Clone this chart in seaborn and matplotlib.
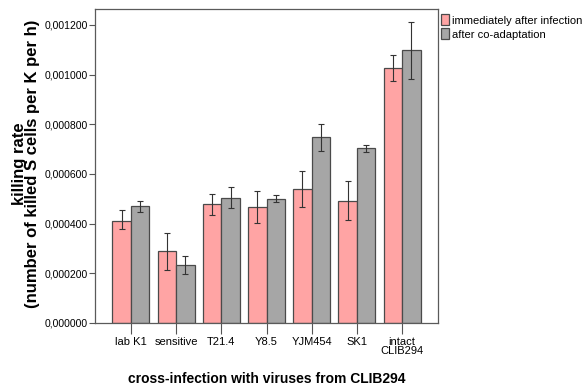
import matplotlib
matplotlib.use("Agg")
import matplotlib.pyplot as plt
import matplotlib.ticker as mticker
import numpy as np
import pandas as pd
import seaborn as sns

# Virus source strains (x categories)
strains = ["lab K1", "sensitive", "T21.4", "Y8.5", "YJM454", "SK1", "intact\nCLIB294"]
conditions = ["immediately after infection", "after co-adaptation"]

# Mean killing rates
rate_immediate = [0.000411, 0.000289, 0.000478, 0.000468, 0.000538, 0.000493, 0.001025]
rate_coadapted = [0.000471, 0.000235, 0.000505, 0.000500, 0.000750, 0.000706, 0.001098]

# Error bar bounds (lower, upper)
low_immediate = [0.000378, 0.000213, 0.000436, 0.000404, 0.000466, 0.000415, 0.000973]
high_immediate = [0.000455, 0.000361, 0.000521, 0.000530, 0.000613, 0.000573, 0.001078]
low_coadapted = [0.000448, 0.000197, 0.000463, 0.000488, 0.000694, 0.000690, 0.000981]
high_coadapted = [0.000492, 0.000271, 0.000546, 0.000514, 0.000803, 0.000718, 0.001213]

yticks = [0.0, 0.0002, 0.0004, 0.0006, 0.0008, 0.0010, 0.0012]

df = pd.DataFrame({
    "strain": strains * 2,
    "condition": [conditions[0]] * len(strains) + [conditions[1]] * len(strains),
    "rate": rate_immediate + rate_coadapted,
    "low": low_immediate + low_coadapted,
    "high": high_immediate + high_coadapted,
})

sns.set_theme(style="white")
plt.rcParams["font.family"] = ["Liberation Sans", "DejaVu Sans"]
plt.rcParams.update({"text.color": "black", "axes.labelcolor": "black",
                     "xtick.color": "black", "ytick.color": "black"})

W, H = 587, 392
fig = plt.figure(figsize=(W / 100, H / 100), dpi=100)
ax_left, ax_right, ax_top, ax_bottom = 95, 438, 9, 323
ax = fig.add_axes([ax_left / W, 1 - ax_bottom / H, (ax_right - ax_left) / W, (ax_bottom - ax_top) / H])

palette = {conditions[0]: "#FFA4A4", conditions[1]: "#A6A6A6"}
sns.barplot(data=df, x="strain", y="rate", hue="condition", hue_order=conditions,
            order=strains, palette=palette, errorbar=None, width=0.82,
            edgecolor="#4a4a4a", linewidth=0.9, saturation=1, ax=ax)

# Error bars at the centre of each bar
bars = [p for p in ax.patches if p.get_height() > 0]
for cond_idx, cond in enumerate(conditions):
    sub = df[df["condition"] == cond].reset_index(drop=True)
    cbars = bars[cond_idx * len(strains):(cond_idx + 1) * len(strains)]
    xs = [b.get_x() + b.get_width() / 2 for b in cbars]
    ax.errorbar(xs, sub["rate"], yerr=[sub["rate"] - sub["low"], sub["high"] - sub["rate"]],
                fmt="none", ecolor="#333333", elinewidth=0.8, capsize=2.5, capthick=0.8)

ax.set_xlim(-0.795, len(strains) - 1 + 0.795)
ax.set_ylim(0, 0.001264)
ax.set_yticks(yticks)
ax.yaxis.set_major_formatter(mticker.FuncFormatter(lambda v, p: f"{v:.6f}".replace(".", ",")))

ax.tick_params(axis="y", which="major", length=4, width=0.8, color="#555555",
               labelcolor="black", labelsize=7.5, pad=1, left=True)
ax.tick_params(axis="x", which="major", length=8, width=0.8, color="#555555",
               labelcolor="black", labelsize=8, pad=2, bottom=True)
for lbl in ax.get_xticklabels():
    lbl.set_linespacing(0.95)

for s in ax.spines.values():
    s.set_color("#5a5a5a")
    s.set_linewidth(0.9)

ax_w = ax_right - ax_left
ax_h = ax_bottom - ax_top
ax.set_xlabel("cross-infection with viruses from CLIB294", fontsize=10,
              fontweight="bold", va="center", color="black")
ax.xaxis.set_label_coords(0.5, -(379 - ax_bottom) / ax_h)
ax.set_ylabel("killing rate\n(number of killed S cells per K per h)", fontsize=12,
              fontweight="bold", linespacing=0.86, va="center", color="black")
ax.yaxis.set_label_coords(-(ax_left - 26) / ax_w, 0.5 + (166 - 164) / ax_h)

leg = ax.legend(loc="upper left", bbox_to_anchor=(1.002, 0.99), frameon=False,
                fontsize=8, handlelength=0.75, handleheight=1.15, handletextpad=0.25,
                borderaxespad=0.1, labelspacing=0.25, borderpad=0.1)
for t in leg.get_texts():
    t.set_color("black")

fig.savefig("out.png", dpi=100, facecolor="white")
